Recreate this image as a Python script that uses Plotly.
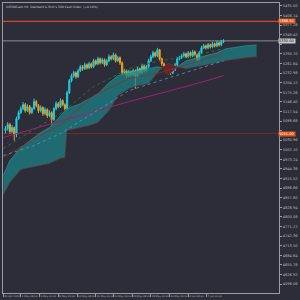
import numpy as np
import plotly.graph_objects as go

# ---------------- data ----------------
first_open = 5060
closes = [5066, 5078, 5057, 5069, 5048, 5096, 5114, 5126, 5138, 5120,
          5132, 5114, 5126, 5147, 5135, 5120, 5129, 5111, 5123, 5105,
          5114, 5093, 5126, 5141, 5132, 5150, 5138, 5126, 5174, 5210,
          5225, 5234, 5222, 5240, 5252, 5246, 5258, 5249, 5261, 5252,
          5270, 5261, 5276, 5264, 5273, 5258, 5270, 5282, 5276, 5288,
          5270, 5279, 5264, 5234, 5240, 5225, 5237, 5228, 5240, 5222,
          5246, 5234, 5255, 5240, 5252, 5270, 5282, 5294, 5285, 5303,
          5276, 5261, 5252, 5240, 5246, 5234, 5243, 5258, 5276, 5279,
          5285, 5291, 5282, 5294, 5285, 5297, 5288, 5273, 5294, 5309,
          5315, 5309, 5318, 5312, 5321, 5315, 5324, 5318, 5327, 5330]
highs = [5074, 5085, 5083, 5077, 5072, 5102, 5121, 5133, 5146, 5143,
         5139, 5137, 5131, 5156, 5152, 5140, 5136, 5133, 5130, 5127,
         5121, 5118, 5131, 5148, 5146, 5157, 5154, 5142, 5180, 5216,
         5231, 5240, 5238, 5246, 5258, 5257, 5264, 5262, 5267, 5265,
         5276, 5274, 5282, 5280, 5279, 5277, 5276, 5289, 5287, 5295,
         5292, 5285, 5283, 5268, 5246, 5244, 5243, 5241, 5246, 5244,
         5252, 5250, 5261, 5259, 5258, 5276, 5288, 5300, 5298, 5309,
         5306, 5280, 5265, 5256, 5252, 5250, 5249, 5264, 5282, 5285,
         5291, 5297, 5295, 5300, 5298, 5303, 5301, 5292, 5300, 5315,
         5321, 5319, 5324, 5322, 5327, 5325, 5330, 5328, 5333, 5335]
lows = [5051, 5060, 5050, 5052, 5030, 5040, 5092, 5110, 5121, 5114,
        5116, 5108, 5110, 5122, 5130, 5113, 5115, 5104, 5106, 5098,
        5100, 5078, 5089, 5121, 5127, 5128, 5133, 5120, 5122, 5170,
        5205, 5219, 5216, 5218, 5236, 5240, 5242, 5244, 5245, 5247,
        5248, 5256, 5257, 5259, 5260, 5252, 5254, 5266, 5271, 5272,
        5265, 5266, 5258, 5228, 5229, 5219, 5221, 5222, 5224, 5186,
        5218, 5229, 5230, 5235, 5236, 5248, 5266, 5278, 5280, 5281,
        5271, 5255, 5246, 5233, 5228, 5227, 5230, 5239, 5254, 5271,
        5275, 5281, 5277, 5278, 5280, 5281, 5283, 5266, 5269, 5290,
        5305, 5304, 5305, 5307, 5308, 5310, 5311, 5313, 5314, 5324]

# Ichimoku cloud (span A / span B), bar index positions
cloud_x = [-1, 2, 7, 11, 16, 20, 25, 27, 28, 34, 38, 42, 47, 51, 56, 60, 65,
           69, 71, 74, 78, 82, 87, 91, 96, 100, 105, 109, 114]
span_a = [4925, 4970, 5009, 5030, 5054, 5069, 5105, 5120, 5126, 5141, 5156,
          5171, 5204, 5225, 5234, 5240, 5246, 5252, 5249, 5228, 5252, 5270,
          5279, 5285, 5294, 5306, 5312, 5315, 5318]
span_b = [4865, 4904, 4943, 4949, 4955, 4961, 4976, 4979, 5060, 5069, 5075,
          5084, 5120, 5165, 5186, 5195, 5201, 5234, 5249, 5261, 5252, 5246,
          5252, 5258, 5264, 5270, 5276, 5279, 5282]

# moving averages
line_x = [-1, 12, 25, 40, 56, 70, 85, 99]
ma_magenta = [5039, 5063, 5087, 5117, 5147, 5171, 5198, 5225]
ma_green = [5006, 5060, 5111, 5192, 5246, 5270, 5285, 5306]
ma_brown = [4979, 5030, 5078, 5165, 5216, 5234, 5264, 5291]
kijun = [4985, 5012, 5051, 5114, 5180, 5210, 5240, 5270]

level_top = 5388.50
level_bid = 5330.00
level_low = 5051.00

ytick_vals = [5435.00, 5406.14, 5377.28, 5348.42, 5319.56, 5290.70, 5261.84,
              5232.98, 5204.12, 5175.26, 5146.40, 5117.54, 5088.68, 5059.82,
              5030.96, 5002.10, 4973.24, 4944.38, 4915.52, 4886.66, 4857.80,
              4828.94, 4800.08, 4771.22, 4742.36, 4713.50, 4684.64, 4655.78,
              4626.92, 4598.06]
# ticks covered by the price boxes on the scale
ytick_hidden = [5319.56, 5059.82]
xtick_vals = [-1, 7, 15.5, 24, 32.5, 41, 49, 57.5, 66, 74.5, 83, 91.3]
xtick_text = ["26 Apr 2024", "1 May 08:00", "6 May 00:00", "8 May 16:00",
              "13 May 08:00", "16 May 00:00", "20 May 16:00", "23 May 08:00",
              "28 May 00:00", "30 May 16:00", "4 Jun 08:00", "7 Jun 00:00"]
title_text = "US500Cash,H4  Standard & Poor's 500 Cash Index  (+0.10%)"

# ---------------- figure ----------------
BG = "#2d2d39"
n = len(closes)
x = list(range(n))
opens = [first_open] + closes[:-1]

fig = go.Figure()

upper = np.maximum(span_a, span_b)
lower = np.minimum(span_a, span_b)
fig.add_trace(go.Scatter(x=cloud_x, y=lower, mode="lines",
                         line=dict(color="#7a2a2a", width=0.6), hoverinfo="skip"))
fig.add_trace(go.Scatter(x=cloud_x, y=upper, mode="lines", fill="tonexty",
                         fillcolor="rgba(28,130,136,0.72)",
                         line=dict(color="#2a9a9a", width=0.6), hoverinfo="skip"))
# bearish twist
bear_idx = [i for i in range(len(cloud_x)) if span_b[i] >= span_a[i]]
bx = [cloud_x[i] for i in bear_idx]
fig.add_trace(go.Scatter(x=bx, y=[span_a[i] for i in bear_idx], mode="lines",
                         line=dict(color="#6a2020", width=0.5), hoverinfo="skip"))
fig.add_trace(go.Scatter(x=bx, y=[span_b[i] for i in bear_idx], mode="lines", fill="tonexty",
                         fillcolor="rgba(110,30,35,0.95)",
                         line=dict(color="#6a2020", width=0.5), hoverinfo="skip"))

fig.add_trace(go.Scatter(x=line_x, y=ma_magenta, mode="lines",
                         line=dict(color="#a0206e", width=1)))
fig.add_trace(go.Scatter(x=line_x, y=ma_brown, mode="lines",
                         line=dict(color="#8a3424", width=0.8)))
fig.add_trace(go.Scatter(x=line_x, y=ma_green, mode="lines",
                         line=dict(color="#2e7a3a", width=0.8, dash="dot")))
fig.add_trace(go.Scatter(x=line_x, y=kijun, mode="lines",
                         line=dict(color="#4a9ec0", width=0.8, dash="dot")))

fig.add_trace(go.Candlestick(
    x=x, open=opens, high=highs, low=lows, close=closes,
    increasing=dict(line=dict(color="#1ed0e0", width=1), fillcolor="#1ed0e0"),
    decreasing=dict(line=dict(color="#f0a020", width=1), fillcolor="#f0a020"),
    whiskerwidth=0))

# horizontal levels
for lvl, col, w in [(level_top, "#d8481c", 1.2), (level_bid, "#8c8c94", 1), (level_low, "#6e2e2a", 1)]:
    fig.add_shape(type="line", xref="paper", x0=0, x1=1, yref="y", y0=lvl, y1=lvl,
                  line=dict(color=col, width=w), layer="below")

# price boxes on the axis
for lvl, bg, fc in [(level_top, "#e05a14", "#ffffff"), (level_bid, "#c8c8c8", "#222222"),
                    (level_low, "#e05a14", "#ffffff")]:
    fig.add_annotation(xref="paper", x=1.0, xanchor="left", yref="y", y=lvl,
                       text=f"{lvl:.2f}", showarrow=False, bgcolor=bg,
                       font=dict(size=3.6, color=fc, family="DejaVu Sans"),
                       borderpad=0, xshift=-1)

fig.add_annotation(xref="paper", yref="paper", x=0.005, y=1.0, xanchor="left", yanchor="top",
                   text=title_text, showarrow=False,
                   font=dict(size=3, color="#c8c8c8", family="DejaVu Sans"))

fig.update_layout(
    width=300, height=300,
    margin=dict(l=2, r=16, t=2, b=7),
    paper_bgcolor=BG, plot_bgcolor=BG,
    showlegend=False,
    font=dict(family="DejaVu Sans", size=4, color="#b8b8b8"),
    xaxis=dict(range=[-1.11, 124.2], showgrid=False, zeroline=False,
               rangeslider=dict(visible=False),
               showline=True, mirror=True, linecolor="#9a9aa2", linewidth=1,
               tickvals=xtick_vals, ticktext=xtick_text, ticks="outside",
               ticklen=3, tickcolor="#9a9aa2", ticklabelposition="outside right",
               tickangle=0, tickfont=dict(size=2.5, color="#b8b8b8")),
    yaxis=dict(range=[4571, 5444], side="right", showgrid=False, zeroline=False,
               showline=True, mirror=True, linecolor="#9a9aa2", linewidth=1,
               tickvals=ytick_vals,
               ticktext=["" if v in ytick_hidden else f"{v:.2f}" for v in ytick_vals],
               ticks="outside", ticklen=2, tickcolor="#9a9aa2",
               tickfont=dict(size=3.6, color="#b8b8b8")),
)

fig.write_html("out.html")
